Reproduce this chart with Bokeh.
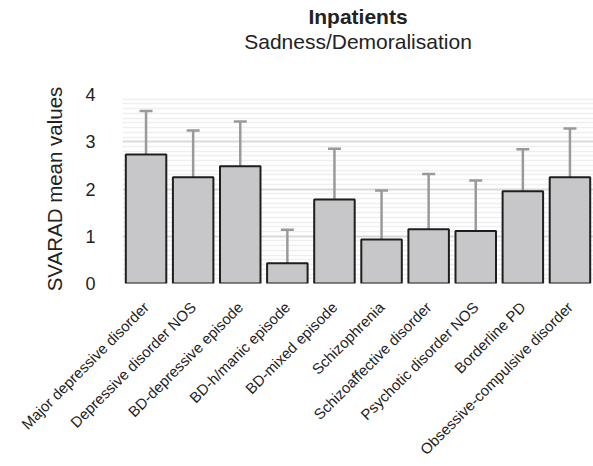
import math
from bokeh.plotting import figure
from bokeh.models import ColumnDataSource, Range1d, Whisker, TeeHead, Title, FixedTicker
from bokeh.embed import file_html
from bokeh.resources import INLINE

categories = ["Major depressive disorder", "Depressive disorder NOS", "BD-depressive episode",
              "BD-h/manic episode", "BD-mixed episode", "Schizophrenia", "Schizoaffective disorder",
              "Psychotic disorder NOS", "Borderline PD", "Obsessive-compulsive disorder"]
means = [2.73, 2.25, 2.48, 0.43, 1.78, 0.93, 1.15, 1.11, 1.95, 2.25]
upper = [3.65, 3.24, 3.43, 1.14, 2.85, 1.97, 2.32, 2.18, 2.84, 3.28]
y_ticks = [0, 1, 2, 3, 4]
title_text = "Inpatients"
subtitle_text = "Sadness/Demoralisation"

src = ColumnDataSource(dict(cat=categories, mean=means, upper=upper))

FONT = "Liberation Sans"

p = figure(x_range=categories, y_range=Range1d(0, 4), width=593, height=466,
           output_backend="svg", toolbar_location=None,
           min_border_left=122, min_border_right=0, min_border_top=94, min_border_bottom=181)
p.title = None
spacer = Title(text=" ", text_font=FONT, text_font_size="1px", standoff=39)
t2 = Title(text=subtitle_text, align="center", text_font=FONT, text_font_size="21px",
           text_font_style="normal", text_color="#222222", standoff=0)
t1 = Title(text=title_text, align="center", text_font=FONT, text_font_size="21px",
           text_font_style="bold", text_color="#222222", standoff=0)
p.add_layout(spacer, "above")
p.add_layout(t2, "above")
p.add_layout(t1, "above")

p.outline_line_color = None
p.background_fill_color = "white"

p.xgrid.grid_line_color = None
p.ygrid.ticker = FixedTicker(ticks=y_ticks, minor_ticks=[i / 10 for i in range(0, 41) if i % 10])
p.ygrid.grid_line_color = "#d9d9d9"
p.ygrid.grid_line_width = 2
p.ygrid.minor_grid_line_color = "#efefef"
p.ygrid.minor_grid_line_width = 1.5

p.yaxis.ticker = FixedTicker(ticks=y_ticks)
p.yaxis.axis_line_color = None
p.yaxis.major_tick_line_color = None
p.yaxis.minor_tick_line_color = None
p.yaxis.major_label_text_font = FONT
p.yaxis.major_label_text_font_size = "18px"
p.yaxis.major_label_text_color = "#222222"
p.yaxis.major_label_standoff = 21
p.yaxis.axis_label = "SVARAD mean values"
p.yaxis.axis_label_text_font = FONT
p.yaxis.axis_label_text_font_size = "20.5px"
p.yaxis.axis_label_text_font_style = "normal"
p.yaxis.axis_label_text_color = "#222222"
p.yaxis.axis_label_standoff = 16

p.xaxis.axis_line_color = None
p.xaxis.major_tick_line_color = None
p.xaxis.minor_tick_line_color = None
p.xaxis.major_label_orientation = math.pi / 4
p.xaxis.major_label_text_font = FONT
p.xaxis.major_label_text_font_size = "15px"
p.xaxis.major_label_text_color = "#222222"
p.xaxis.major_label_standoff = 15

w = Whisker(source=src, base="cat", lower="mean", upper="upper",
            line_color="#9a9a9a", line_width=2.5,
            upper_head=TeeHead(size=13, line_color="#9a9a9a", line_width=2.5),
            lower_head=None)
p.add_layout(w)

p.vbar(x="cat", top="mean", bottom=0, width=0.86, source=src,
       fill_color="#c7c7c9", line_color="#1e1e1e", line_width=2)

open("out.html", "w").write(file_html(p, INLINE))
